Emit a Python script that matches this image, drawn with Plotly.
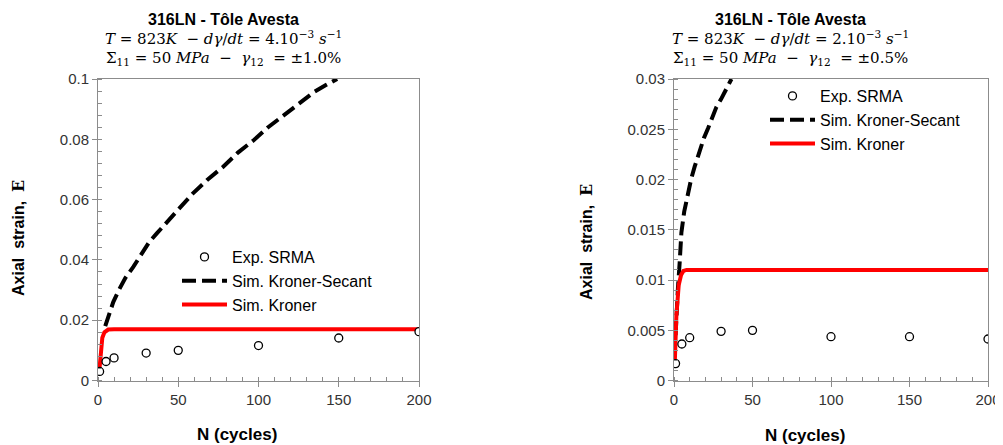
import plotly.graph_objects as go

# ---------------- data ----------------
# Left chart: gamma12 = +/-1.0 %
exp_n_L = [1, 5, 10, 30, 50, 100, 150, 200]
exp_e_L = [0.0030, 0.0063, 0.0075, 0.0091, 0.0100, 0.0116, 0.0141, 0.0162]

sec_n_L = [4.5, 7, 9.5, 13, 17, 22, 27, 32, 36.5, 43, 50, 59, 68, 78, 87, 97, 106, 115.5, 125, 135, 142, 149]
sec_e_L = [0.0180, 0.0225, 0.0260, 0.0300, 0.0340, 0.0377, 0.0420, 0.0460, 0.0487, 0.0526, 0.0570,
           0.0620, 0.0665, 0.0709, 0.0755, 0.0797, 0.0840, 0.0880, 0.0920, 0.0958, 0.0980, 0.1000]

kro_n_L = [1, 2.7, 4, 6.4, 10, 200]
kro_e_L = [0.0044, 0.0142, 0.0160, 0.0169, 0.0170, 0.0170]

# Right chart: gamma12 = +/-0.5 %
exp_n_R = [1, 5, 10, 30, 50, 100, 150, 200]
exp_e_R = [0.00168, 0.00363, 0.00426, 0.00489, 0.00499, 0.00436, 0.00436, 0.00413]

sec_n_R = [1, 1.5, 2.5, 3.6, 4.7, 6.5, 8.9, 11, 13.2, 16.4, 19, 21.7, 24, 27, 30, 32.3, 34.5, 36.6]
sec_e_R = [0.0045, 0.0066, 0.0092, 0.0117, 0.0147, 0.0168, 0.0187, 0.0201, 0.0213, 0.0229, 0.0241,
           0.0251, 0.0260, 0.0272, 0.0280, 0.0287, 0.0294, 0.0300]

kro_n_R = [0.5, 1.5, 3, 4.5, 6, 8, 200]
kro_e_R = [0.0018, 0.0064, 0.0095, 0.0105, 0.0109, 0.0110, 0.0110]

x_ticks = [0, 50, 100, 150, 200]

title1 = "<b>316LN - Tôle Avesta</b>"
title2_L = "<i>T</i> = 823<i>K</i>  − <i>dγ</i>/<i>dt</i> = 4.10<sup>−3</sup> <i>s</i><sup>−1</sup>"
title2_R = "<i>T</i> = 823<i>K</i>  − <i>dγ</i>/<i>dt</i> = 2.10<sup>−3</sup> <i>s</i><sup>−1</sup>"
title3_L = "Σ<sub>11</sub> = 50 <i>MPa</i>  −  <i>γ</i><sub>12</sub>  = ±1.0%"
title3_R = "Σ<sub>11</sub> = 50 <i>MPa</i>  −  <i>γ</i><sub>12</sub>  = ±0.5%"
xlabel = "<b>N (cycles)</b>"
ylabel = "<b>Axial  strain,  </b><span style='font-family:DejaVu Serif'><b>E</b></span>"

names = ["Exp. SRMA", "Sim. Kroner-Secant", "Sim. Kroner"]

# ---------------- figure ----------------
SANS = "Arial, Liberation Sans, sans-serif"
SERIF = "DejaVu Serif, Liberation Serif, serif"

# page body has an 8px margin: work in screen pixels and convert
OFF = 8
W, H = 1003 - OFF, 445 - OFF

def px(x):
    return (x - OFF) / W

def py(y):
    return 1 - (y - OFF) / H

fig = go.Figure()

def add_set(xa, ya, leg, sn, se, kn, ke, en, ee):
    fig.add_trace(go.Scatter(x=sn, y=se, mode="lines", name=names[1], xaxis=xa, yaxis=ya,
                             legend=leg, legendrank=2,
                             line=dict(color="black", width=4, dash="14px,6px")))
    fig.add_trace(go.Scatter(x=kn, y=ke, mode="lines", name=names[2], xaxis=xa, yaxis=ya,
                             legend=leg, legendrank=3,
                             line=dict(color="#ff0000", width=4)))
    fig.add_trace(go.Scatter(x=en, y=ee, mode="markers", name=names[0], xaxis=xa, yaxis=ya,
                             legend=leg, legendrank=1,
                             marker=dict(symbol="circle", size=8, color="white",
                                         line=dict(color="black", width=1.3))))

add_set("x", "y", "legend", sec_n_L, sec_e_L, kro_n_L, kro_e_L, exp_n_L, exp_e_L)
add_set("x2", "y2", "legend2", sec_n_R, sec_e_R, kro_n_R, kro_e_R, exp_n_R, exp_e_R)

ydom = [py(380.5), py(79)]
axis_common = dict(showgrid=False, zeroline=False, showline=True, linecolor="#8c8c8c",
                   linewidth=1, mirror=True, ticks="outside", ticklen=5, tickcolor="#8c8c8c",
                   automargin=False,
                   tickfont=dict(family=SANS, size=15, color="#333333"))
minor_x = dict(dtick=10, ticks="inside", ticklen=4, tickcolor="#8c8c8c")

fig.update_layout(
    width=W, height=H,
    margin=dict(l=0, r=0, t=0, b=0),
    paper_bgcolor="white", plot_bgcolor="white",
    showlegend=True,
    xaxis=dict(domain=[px(98), px(419)], range=[0, 200], tickvals=x_ticks, anchor="y",
               minor=minor_x, **axis_common),
    yaxis=dict(domain=ydom, range=[0, 0.1], dtick=0.02, anchor="x",
               minor=dict(dtick=0.004, ticks="inside", ticklen=4, tickcolor="#8c8c8c"),
               **axis_common),
    xaxis2=dict(domain=[px(674), px(988)], range=[0, 200], tickvals=x_ticks, anchor="y2",
                minor=minor_x, **axis_common),
    yaxis2=dict(domain=ydom, range=[0, 0.03], dtick=0.005, anchor="x2",
                minor=dict(dtick=0.001, ticks="inside", ticklen=4, tickcolor="#8c8c8c"),
                **axis_common),
    legend=dict(x=px(177), y=py(240), xanchor="left", yanchor="top",
                bgcolor="rgba(0,0,0,0)", itemwidth=45,
                font=dict(family=SANS, size=16, color="black")),
    legend2=dict(x=px(765), y=py(79), xanchor="left", yanchor="top",
                 bgcolor="rgba(0,0,0,0)", itemwidth=45,
                 font=dict(family=SANS, size=16, color="black")),
)

def ann(text, x, y, family, size, angle=0):
    fig.add_annotation(text=text, x=px(x), y=py(y), xref="paper", yref="paper",
                       xanchor="center", yanchor="middle", showarrow=False, textangle=angle,
                       font=dict(family=family, size=size, color="black"))

for cx, t2, t3 in [(223, title2_L, title3_L), (790, title2_R, title3_R)]:
    ann(title1, cx, 19.5, SANS, 16)
    ann(t2, cx, 38, SERIF, 15)
    ann(t3, cx, 59, SERIF, 15)

ann(xlabel, 237, 434, SANS, 17)
ann(xlabel, 805, 435, SANS, 17)
ann(ylabel, 18, 238, SANS, 16, -90)
ann(ylabel, 586, 242, SANS, 16, -90)

fig.write_html("out.html")
